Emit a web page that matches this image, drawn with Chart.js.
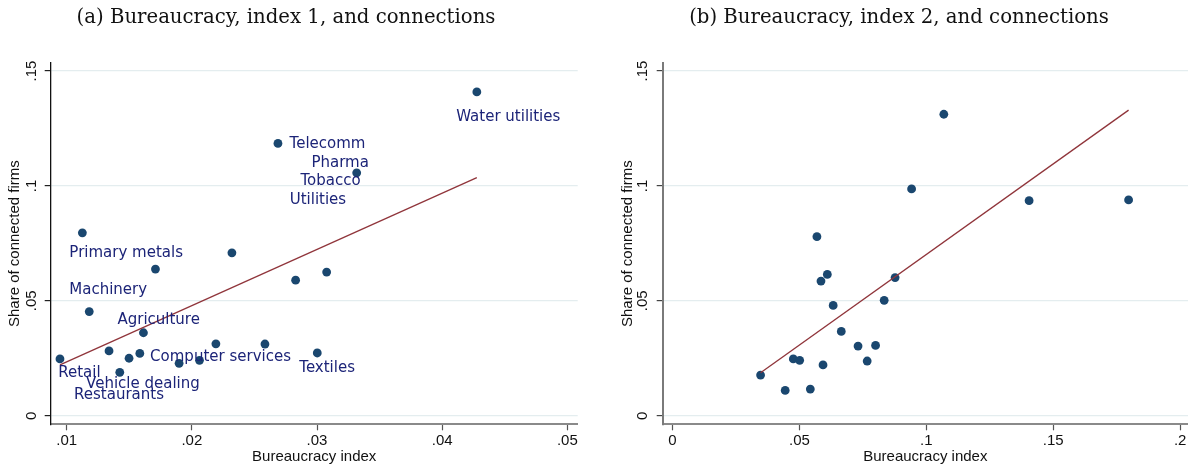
<!DOCTYPE html>
<html>
<head>
<meta charset="utf-8">
<script src="https://cdn.jsdelivr.net/npm/chart.js@4.4.1/dist/chart.umd.min.js"></script>
<style>
  html, body { margin: 0; padding: 0; background: #ffffff; }
  #wrap { position: relative; width: 1188px; height: 466px; overflow: hidden; background: #ffffff; }
  canvas { position: absolute; top: 0; }
  #panelA { left: 0; }
  #panelB { left: 594px; }
</style>
</head>
<body>
<div id="wrap">
  <canvas id="panelA" width="594" height="466"></canvas>
  <canvas id="panelB" width="612" height="466"></canvas>
</div>
<script>
// Panel (a): bureaucracy index 1 against the share of connected firms, one point per industry
const index1 = [0.00946, 0.01125, 0.01180, 0.01338, 0.01424, 0.01498, 0.01584, 0.01613, 0.01709, 0.01898,
                0.02061, 0.02192, 0.02320, 0.02584, 0.02688, 0.02829, 0.03002, 0.03077, 0.03317, 0.04277];
const share1 = [0.0247, 0.0796, 0.0453, 0.0282, 0.0189, 0.0250, 0.0271, 0.0361, 0.0638, 0.0228,
                0.0241, 0.0313, 0.0709, 0.0312, 0.1185, 0.0590, 0.0273, 0.0625, 0.1057, 0.1409];
// fitted regression line, panel (a)
const fit1X = [0.00946, 0.04277];
const fit1Y = [0.0221, 0.1036];

// industry names and the point (index into index1/share1) each one is attached to
const industryNames = ['Retail', 'Vehicle dealing', 'Restaurants', 'Machinery', 'Primary metals', 'Agriculture',
                       'Computer services', 'Textiles', 'Telecomm', 'Water utilities', 'Pharma', 'Tobacco', 'Utilities'];
const industryPoint = [0, 4, 5, 2, 1, 7, 6, 16, 14, 19, 18, 18, 18];

// Panel (b): bureaucracy index 2 against the share of connected firms
const index2 = [0.0347, 0.0444, 0.0476, 0.0501, 0.0543, 0.0569, 0.0585, 0.0593, 0.0610, 0.0633,
                0.0665, 0.0731, 0.0767, 0.0800, 0.0834, 0.0877, 0.0942, 0.1069, 0.1405, 0.1797];
const share2 = [0.0177, 0.0110, 0.0247, 0.0241, 0.0116, 0.0779, 0.0586, 0.0221, 0.0615, 0.0480,
                0.0367, 0.0303, 0.0238, 0.0306, 0.0502, 0.0601, 0.0987, 0.1312, 0.0936, 0.0939];
// fitted regression line, panel (b)
const fit2X = [0.0347, 0.1797];
const fit2Y = [0.0187, 0.1330];

// axis ticks and their labels
const xTicksA = [0.01, 0.02, 0.03, 0.04, 0.05];
const xTickLabelsA = ['.01', '.02', '.03', '.04', '.05'];
const xTicksB = [0, 0.05, 0.10, 0.15, 0.20];
const xTickLabelsB = ['0', '.05', '.1', '.15', '.2'];
const yTicks = [0, 0.05, 0.10, 0.15];
const yTickLabels = ['0', '.05', '.1', '.15'];

const panelTitles = ['(a) Bureaucracy, index 1, and connections', '(b) Bureaucracy, index 2, and connections'];
const xTitle = 'Bureaucracy index';
const yTitle = 'Share of connected firms';

// ---- styling ----
const MARKER = '#1a476f';
const FITLINE = '#90353b';
const LABEL = '#1c2478';
const GRID = '#e4edef';
const SANS = "'Liberation Sans', Arial, sans-serif";

// label placement relative to its point, in pixels: [dx to text start, dy to text middle]
const labelOffsets = [[-1.7, 12.7], [-33.7, 10], [-55, 35], [-20, -23], [-13, 18.3], [-26, -14],
                      [10.3, 1.7], [-18, 13.7], [11.6, -1], [-20.6, 23.7], [-45.3, -11.7], [-56.3, 6.6], [-67, 25.6]];

function toPoints(xs, ys) { return xs.map((x, i) => ({ x: x, y: ys[i] })); }

function titlePlugin(text, cx) {
  return {
    id: 'panelTitle',
    afterDraw(chart) {
      const ctx = chart.ctx;
      ctx.save();
      ctx.font = "19.7px 'DejaVu Serif', serif";
      ctx.fillStyle = '#111111';
      ctx.textAlign = 'center';
      ctx.textBaseline = 'alphabetic';
      ctx.fillText(text, cx, 22.7);
      ctx.restore();
    }
  };
}

function industryLabelPlugin(names, points, offsets) {
  return {
    id: 'industryLabels',
    afterDatasetsDraw(chart) {
      const meta = chart.getDatasetMeta(0);
      const ctx = chart.ctx;
      ctx.save();
      ctx.font = "15px 'DejaVu Sans', Verdana, sans-serif";
      ctx.fillStyle = LABEL;
      ctx.textAlign = 'left';
      ctx.textBaseline = 'alphabetic';
      names.forEach((name, i) => {
        const el = meta.data[points[i]];
        if (!el) return;
        ctx.fillText(name, el.x + offsets[i][0], el.y + offsets[i][1] + 5.5);
      });
      ctx.restore();
    }
  };
}

function makePanel(canvasId, cfg) {
  const xScale = {
    type: 'linear',
    min: cfg.xMin, max: cfg.xMax,
    afterBuildTicks: (s) => { s.ticks = cfg.xTicks.map(v => ({ value: v })); },
    afterFit: (s) => { s.height = 41.7; s.paddingLeft = 0; s.paddingRight = 0; },
    ticks: {
      callback: (v, i) => cfg.xTickLabels[i],
      font: { family: SANS, size: 15 },
      color: '#111111',
      padding: 2,
      maxRotation: 0, minRotation: 0,
      autoSkip: false
    },
    grid: { drawOnChartArea: false, drawTicks: true, tickLength: 6, tickColor: '#555555', tickWidth: 1.2 },
    border: { display: true, color: '#8a8a8a', width: 2 },
    title: { display: true, text: xTitle, font: { family: SANS, size: 15 }, color: '#111111', padding: { top: 0, bottom: 0 } }
  };
  const yScale = {
    type: 'linear',
    min: -0.00374, max: 0.1535,
    afterBuildTicks: (s) => { s.ticks = yTicks.map(v => ({ value: v })); },
    afterFit: (s) => { s.width = cfg.yWidth; s.paddingTop = 0; s.paddingBottom = 0; },
    ticks: {
      callback: (v, i) => yTickLabels[i],
      font: { family: SANS, size: 15 },
      color: '#111111',
      padding: cfg.yTickPad,
      minRotation: 90, maxRotation: 90,
      crossAlign: 'center',
      autoSkip: false
    },
    grid: { color: GRID, lineWidth: 1.2, drawTicks: true, tickLength: 6, tickColor: cfg.yTickColor, tickWidth: 1.2 },
    border: { display: true, color: cfg.yAxisColor, width: cfg.yAxisWidth },
    title: { display: true, text: yTitle, font: { family: SANS, size: 15 }, color: '#111111', padding: { top: cfg.yTitlePad, bottom: 0 } }
  };

  return new Chart(document.getElementById(canvasId), {
    type: 'scatter',
    data: {
      datasets: [
        {
          label: 'Industries',
          data: toPoints(cfg.xs, cfg.ys),
          backgroundColor: MARKER,
          borderWidth: 0,
          pointRadius: 4.4,
          pointHoverRadius: 4.4,
          order: 1
        },
        {
          label: 'Fitted values',
          type: 'line',
          data: toPoints(cfg.fitX, cfg.fitY),
          borderColor: FITLINE,
          borderWidth: 1.3,
          pointRadius: 0,
          fill: false,
          tension: 0,
          order: 0
        }
      ]
    },
    options: {
      responsive: false,
      animation: false,
      devicePixelRatio: 1,
      layout: { padding: { top: 63, right: cfg.rightPad, bottom: 0, left: 0 } },
      plugins: { legend: { display: false }, tooltip: { enabled: false }, title: { display: false } },
      scales: { x: xScale, y: yScale }
    },
    plugins: cfg.plugins
  });
}

makePanel('panelA', {
  xs: index1, ys: share1, fitX: fit1X, fitY: fit1Y,
  xMin: 0.00872, xMax: 0.05083, xTicks: xTicksA, xTickLabels: xTickLabelsA,
  yWidth: 50.7, yTickPad: 2, yTitlePad: 6, rightPad: 16.3,
  yAxisColor: '#111111', yAxisWidth: 1.3, yTickColor: '#222222',
  plugins: [titlePlugin(panelTitles[0], 286), industryLabelPlugin(industryNames, industryPoint, labelOffsets)]
});

// panel (b) runs to the right edge of the page; its canvas is a little wider than the visible area
makePanel('panelB', {
  xs: index2, ys: share2, fitX: fit2X, fitY: fit2Y,
  xMin: -0.00386, xMax: 0.2031, xTicks: xTicksB, xTickLabels: xTickLabelsB,
  yWidth: 68.7, yTickPad: 3, yTitlePad: 24.5, rightPad: 18,
  yAxisColor: '#7a7a7a', yAxisWidth: 2, yTickColor: '#444444',
  plugins: [titlePlugin(panelTitles[1], 305)]
});
</script>
</body>
</html>
